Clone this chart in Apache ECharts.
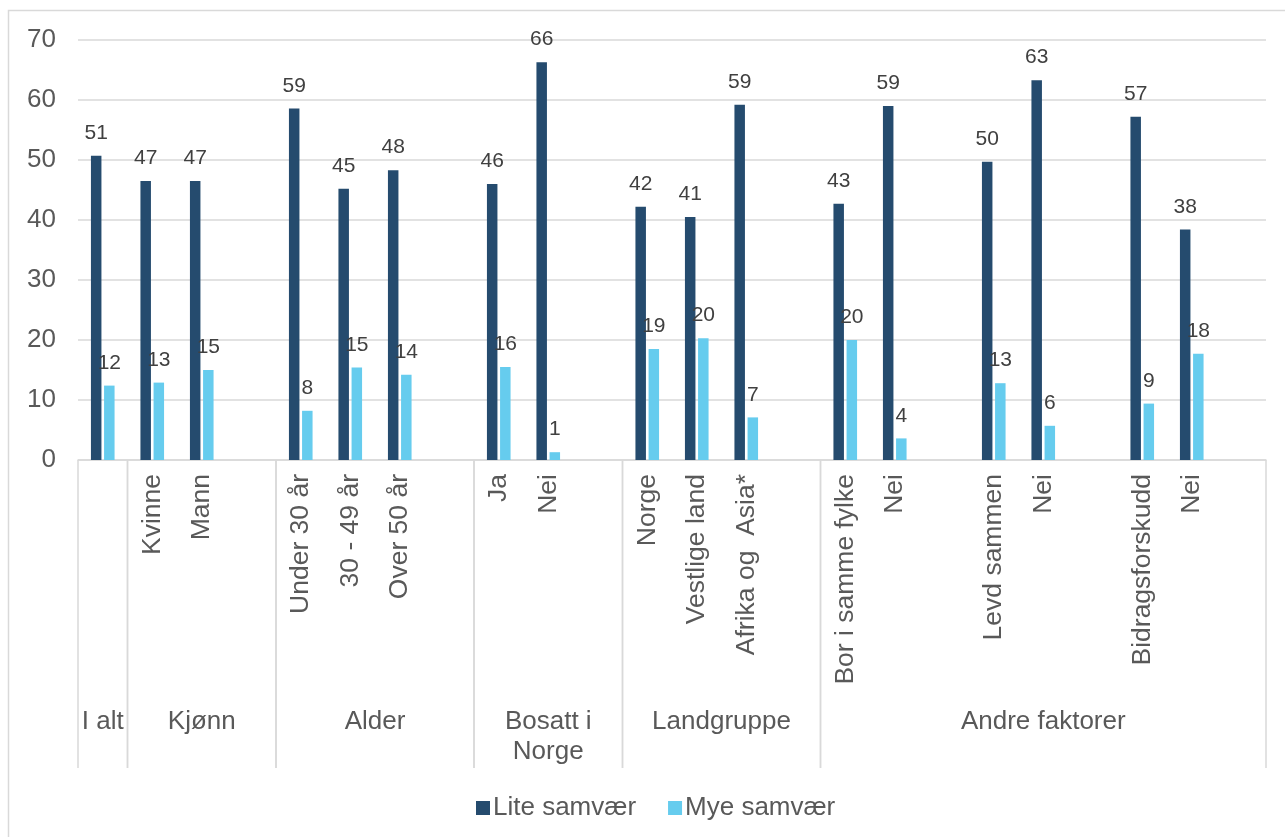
<!DOCTYPE html>
<html>
<head>
<meta charset="utf-8">
<script src="https://cdn.jsdelivr.net/npm/echarts@6/dist/echarts.min.js"></script>
<style>
html,body{margin:0;padding:0;background:#fff;}
#chart{width:1285px;height:837px;}
</style>
</head>
<body>
<div id="chart"></div>
<script>
// ---- data ----
var categories = ['', 'Kvinne', 'Mann', '', 'Under 30 år', '30 - 49 år', 'Over 50 år', '', 'Ja', 'Nei', '', 'Norge', 'Vestlige land', 'Afrika og  Asia*', '', 'Bor i samme fylke', 'Nei', '', 'Levd sammen', 'Nei', '', 'Bidragsforskudd', 'Nei', ''];
var liteSamvaer = [50.7, 46.5, 46.5, null, 58.6, 45.2, 48.3, null, 46.0, 66.3, null, 42.2, 40.5, 59.2, null, 42.7, 59.0, null, 49.7, 63.3, null, 57.2, 38.4, null];
var myeSamvaer = [12.4, 12.9, 15.0, null, 8.2, 15.4, 14.2, null, 15.5, 1.3, null, 18.5, 20.3, 7.1, null, 20.0, 3.6, null, 12.8, 5.7, null, 9.4, 17.7, null];
var groupNames = ['I alt', 'Kjønn', 'Alder', 'Bosatt i\nNorge', 'Landgruppe', 'Andre faktorer'];
var groupStart = [0, 1, 4, 8, 11, 15];
var groupEnd = [1, 4, 8, 11, 15, 24];
var yTicks = [0, 10, 20, 30, 40, 50, 60, 70];

var FONT = "'Liberation Sans', Arial, sans-serif";
var TXT = '#595959';
var GRID_C = '#D9D9D9';

var groupData = groupNames.map(function (n, i) { return [groupStart[i], groupEnd[i], i]; });

var chart = echarts.init(document.getElementById('chart'));
chart.setOption({
  animation: false,
  textStyle: { fontFamily: FONT },
  graphic: [{
    type: 'rect',
    shape: { x: 8.5, y: 10.5, width: 1400, height: 900 },
    style: { fill: 'none', stroke: GRID_C, lineWidth: 1.5 },
    silent: true, z: -10
  }],
  grid: { left: 78, right: 19, top: 40, bottom: 377, containLabel: false },
  legend: {
    data: ['Lite samvær', 'Mye samvær'],
    left: 471, top: 790,
    itemWidth: 14, itemHeight: 14, itemGap: 32,
    icon: 'rect',
    textStyle: { fontSize: 26, color: TXT, fontFamily: FONT, padding: [0, 0, 0, -2] }
  },
  xAxis: [{
    type: 'category',
    data: categories,
    axisLine: { lineStyle: { color: GRID_C, width: 1.5 } },
    axisTick: { show: false },
    axisLabel: { rotate: 90, interval: 0, fontSize: 26.5, color: TXT, margin: 14, fontFamily: FONT }
  }, {
    type: 'value', min: 0, max: categories.length, show: false
  }],
  yAxis: {
    type: 'value', min: yTicks[0], max: yTicks[yTicks.length - 1], interval: 10,
    axisLine: { show: false }, axisTick: { show: false },
    splitLine: { lineStyle: { color: GRID_C, width: 1.5 } },
    axisLabel: { fontSize: 26, color: TXT, margin: 22, fontFamily: FONT }
  },
  series: [{
    name: 'Lite samvær', type: 'bar', data: liteSamvaer,
    barWidth: 10.5, barGap: '25%',
    itemStyle: { color: '#254B6E' },
    label: { show: true, position: 'top', distance: 12, fontSize: 21, color: '#404040', fontFamily: FONT,
      formatter: function (p) { return Math.round(p.value); } }
  }, {
    name: 'Mye samvær', type: 'bar', data: myeSamvaer,
    barWidth: 10.5, barGap: '25%',
    itemStyle: { color: '#66CCEE' },
    label: { show: true, position: 'top', distance: 12, fontSize: 21, color: '#404040', fontFamily: FONT,
      formatter: function (p) { return Math.round(p.value); } }
  }, {
    name: 'groups', type: 'custom', xAxisIndex: 1, yAxisIndex: 0,
    data: groupData, clip: false, silent: true,
    renderItem: function (params, api) {
      var s = api.coord([api.value(0), 0]);
      var e = api.coord([api.value(1), 0]);
      var idx = api.value(2);
      var children = [{
        type: 'line', shape: { x1: s[0], y1: s[1], x2: s[0], y2: s[1] + 308 },
        style: { stroke: GRID_C, lineWidth: 1.5 }
      }, {
        type: 'line', shape: { x1: e[0], y1: e[1], x2: e[0], y2: e[1] + 308 },
        style: { stroke: GRID_C, lineWidth: 1.5 }
      }, {
        type: 'text',
        style: { text: groupNames[idx], x: (s[0] + e[0]) / 2, y: s[1] + 247, align: 'center', verticalAlign: 'top',
          fontSize: 26, lineHeight: 30, fill: TXT, fontFamily: FONT }
      }];
      return { type: 'group', children: children };
    }
  }]
});
</script>
</body>
</html>
